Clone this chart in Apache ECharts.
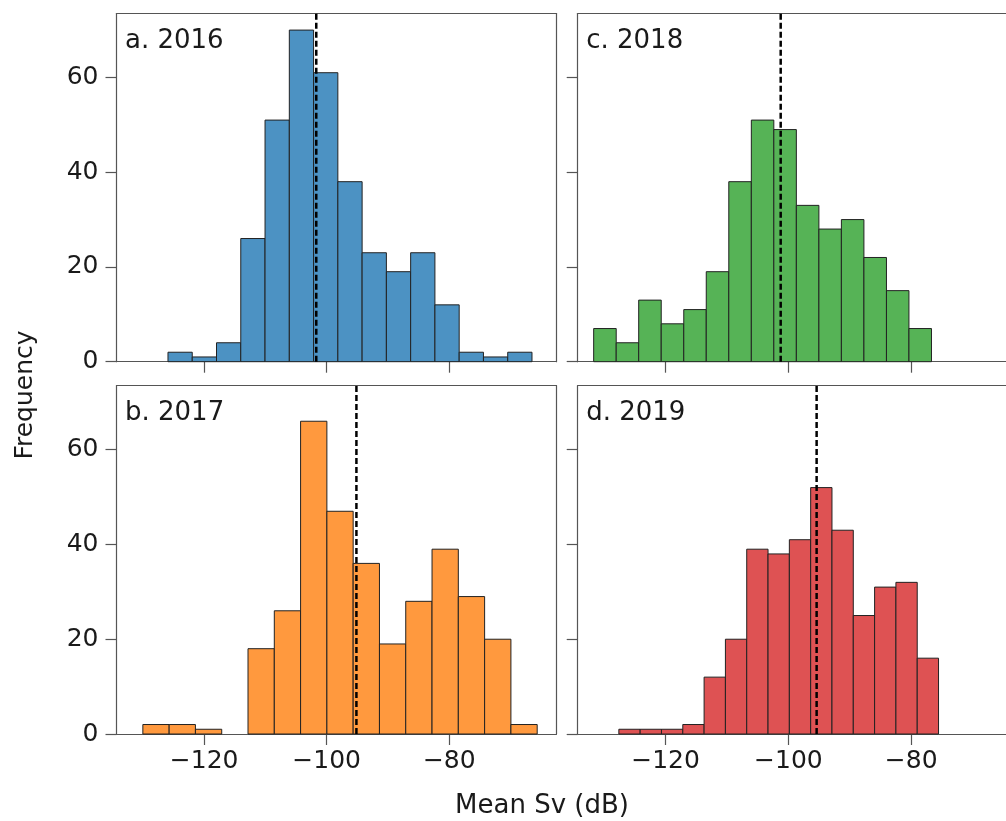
<!DOCTYPE html>
<html>
<head>
<meta charset="utf-8">
<script src="https://cdn.jsdelivr.net/npm/echarts@6/dist/echarts.min.js"></script>
<style>html,body{margin:0;padding:0;background:#fff;}#chart{width:1006px;height:821px;}</style>
</head>
<body>
<div id="chart"></div>
<script>
// ---- Data ----
const panelLabels = ['a. 2016', 'b. 2017', 'c. 2018', 'd. 2019'];
const edges2016 = [-125.9, -121.94, -117.98, -114.02, -110.06, -106.1, -102.14, -98.18, -94.22, -90.26, -86.3, -82.34, -78.38, -74.42, -70.46, -66.5];
const counts2016 = [2, 1, 4, 26, 51, 70, 61, 38, 23, 19, 23, 12, 2, 1, 2];
const edges2017 = [-130.0, -125.71, -121.42, -117.13, -112.84, -108.55, -104.26, -99.97, -95.68, -91.39, -87.1, -82.81, -78.52, -74.23, -69.94, -65.65];
const counts2017 = [2, 2, 1, 0, 18, 26, 66, 47, 36, 19, 28, 39, 29, 20, 2];
const edges2018 = [-131.7, -128.03, -124.37, -120.7, -117.03, -113.37, -109.7, -106.03, -102.37, -98.7, -95.03, -91.37, -87.7, -84.03, -80.37, -76.7];
const counts2018 = [7, 4, 13, 8, 11, 19, 38, 51, 49, 33, 28, 30, 22, 15, 7];
const edges2019 = [-127.6, -124.13, -120.66, -117.19, -113.72, -110.25, -106.78, -103.31, -99.84, -96.37, -92.9, -89.43, -85.96, -82.49, -79.02, -75.55];
const counts2019 = [1, 1, 1, 2, 12, 20, 39, 38, 41, 52, 43, 25, 31, 32, 16];
const means = [-101.7, -95.15, -101.25, -95.4];
const xTicks = [-120, -100, -80];
const yTicks = [0, 20, 40, 60];
const xRange = [-134.3, -62.5];
const yRange = [0, 73.5];
const xLabel = 'Mean Sv (dB)';
const yLabel = 'Frequency';

// ---- Styling / layout ----
const colors = ['#4c92c3', '#ff993e', '#56b356', '#de5253'];
const FONT = 'DejaVu Sans';
const spine = '#555555';
const grids = [
  {left: 116.5, top: 13.5, width: 440, height: 348.2},
  {left: 116.5, top: 385.7, width: 440, height: 348.3},
  {left: 577.7, top: 13.5, width: 441, height: 348.2},
  {left: 577.7, top: 385.7, width: 441, height: 348.3}
];
const edgesAll = [edges2016, edges2017, edges2018, edges2019];
const countsAll = [counts2016, counts2017, counts2018, counts2019];
const isBottom = [false, true, false, true];
const isLeft = [true, true, false, false];

const fmtX = v => (v < 0 ? '\u2212' + Math.abs(v) : String(v));
const spineLine = {show: true, onZero: false, lineStyle: {color: spine, width: 1.2}};

const xAxes = [], yAxes = [];
grids.forEach((g, i) => {
  xAxes.push({
    type: 'value', gridIndex: i, position: 'bottom', min: xRange[0], max: xRange[1],
    axisLine: spineLine,
    splitLine: {show: false},
    axisTick: {show: true, length: 11, inside: false, lineStyle: {color: spine, width: 1.2}, customValues: xTicks},
    axisLabel: {show: isBottom[i], customValues: xTicks, formatter: fmtX, fontFamily: FONT, fontSize: 25, color: '#1a1a1a', margin: 15}
  });
  yAxes.push({
    type: 'value', gridIndex: i, position: 'left', min: yRange[0], max: yRange[1],
    axisLine: spineLine,
    splitLine: {show: false},
    axisTick: {show: true, length: 11, inside: false, lineStyle: {color: spine, width: 1.2}, customValues: yTicks},
    axisLabel: {show: isLeft[i], customValues: yTicks, fontFamily: FONT, fontSize: 25, color: '#1a1a1a', margin: 18}
  });
});
// top and right spines (frame only)
grids.forEach((g, i) => {
  xAxes.push({type: 'value', gridIndex: i, position: 'top', min: xRange[0], max: xRange[1],
    axisLine: spineLine, axisTick: {show: false}, axisLabel: {show: false}, splitLine: {show: false}});
  yAxes.push({type: 'value', gridIndex: i, position: 'right', min: yRange[0], max: yRange[1],
    axisLine: spineLine, axisTick: {show: false}, axisLabel: {show: false}, splitLine: {show: false}});
});

const option = {
  animation: false,
  backgroundColor: '#ffffff',
  grid: grids.map(g => Object.assign({show: false, containLabel: false, outerBoundsMode: 'none'}, g)),
  xAxis: xAxes,
  yAxis: yAxes,
  series: [],
  graphic: []
};

for (let i = 0; i < 4; i++) {
  const edges = edgesAll[i], counts = countsAll[i];
  const data = counts.map((c, k) => [edges[k], edges[k + 1], c]);
  const color = colors[i];
  option.series.push({
    type: 'custom', xAxisIndex: i, yAxisIndex: i,
    encode: {x: [0, 1], y: 2},
    data: data,
    renderItem: function (params, api) {
      const x0 = api.value(0), x1 = api.value(1), h = api.value(2);
      if (h <= 0) return null;
      const p0 = api.coord([x0, h]);
      const p1 = api.coord([x1, 0]);
      return {type: 'rect', shape: {x: p0[0], y: p0[1], width: p1[0] - p0[0], height: p1[1] - p0[1]},
        style: {fill: color, stroke: '#222222', lineWidth: 1}};
    },
    z: 2
  });
  option.series.push({
    type: 'line', xAxisIndex: i, yAxisIndex: i,
    data: [[means[i], yRange[0]], [means[i], yRange[1]]],
    symbol: 'none',
    lineStyle: {color: '#000000', width: 2.5, type: [6, 3]},
    z: 5
  });
  const g = grids[i];
  option.graphic.push({
    type: 'text', left: g.left + 8.5, top: g.top + 15,
    style: {text: panelLabels[i], font: '26px "' + FONT + '"', fill: '#1a1a1a'}, z: 10
  });
}
option.graphic.push({
  type: 'text', x: 25, y: 395, rotation: Math.PI / 2,
  style: {text: yLabel, font: '25px "' + FONT + '"', fill: '#1a1a1a', textAlign: 'center', textVerticalAlign: 'middle'}
});
option.graphic.push({
  type: 'text', x: 542, y: 806,
  style: {text: xLabel, font: '26px "' + FONT + '"', fill: '#1a1a1a', textAlign: 'center', textVerticalAlign: 'middle'}
});

const chart = echarts.init(document.getElementById('chart'), null, {renderer: 'canvas'});
chart.setOption(option);
</script>
</body>
</html>
